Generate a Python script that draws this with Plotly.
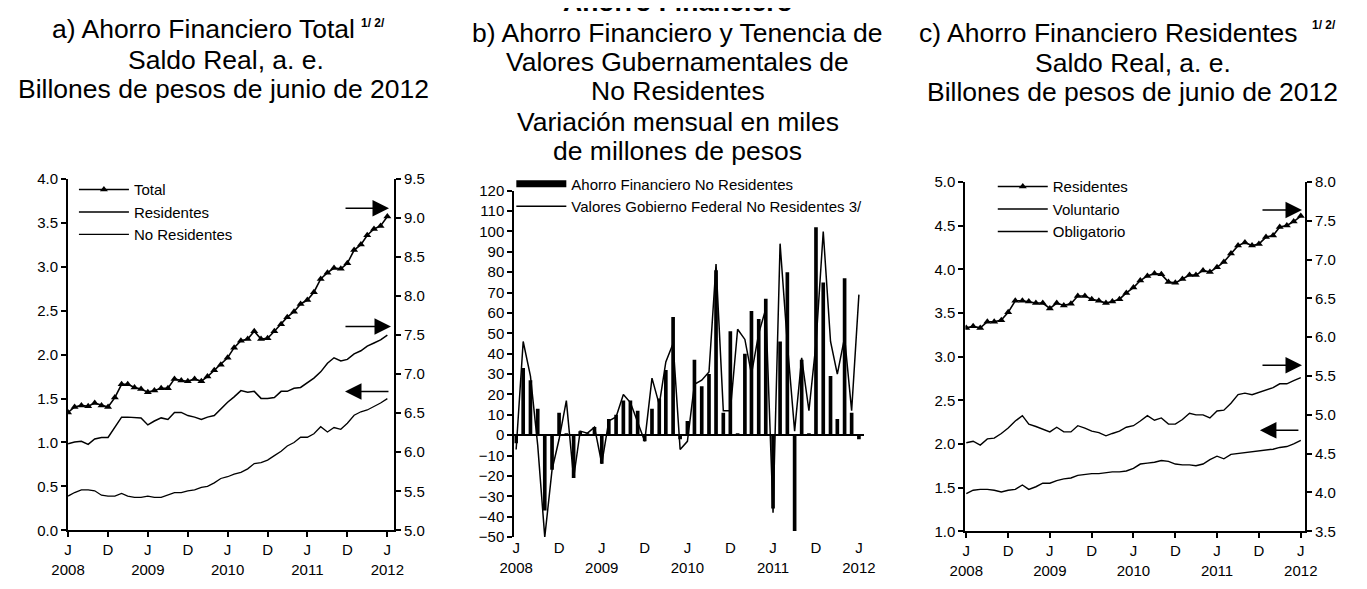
import pandas as pd
import plotly.graph_objects as go

# meses jun-2008 .. jun-2012
meses = pd.date_range("2008-06-01", periods=49, freq="MS")

tick_fechas = ["2008-06-01", "2008-12-01", "2009-06-01", "2009-12-01", "2010-06-01",
               "2010-12-01", "2011-06-01", "2011-12-01", "2012-06-01"]
tick_textos = ["J<br>2008", "D", "J<br>2009", "D", "J<br>2010", "D", "J<br>2011", "D", "J<br>2012"]

# a) Ahorro financiero total (billones de pesos)
total_a = [6.51, 6.58, 6.60, 6.59, 6.63, 6.60, 6.58, 6.70, 6.87, 6.87,
           6.83, 6.81, 6.77, 6.79, 6.82, 6.82, 6.94, 6.92, 6.91, 6.94,
           6.91, 6.97, 7.05, 7.12, 7.21, 7.34, 7.43, 7.45, 7.55, 7.45,
           7.46, 7.55, 7.64, 7.73, 7.80, 7.90, 7.95, 8.05, 8.22, 8.30,
           8.36, 8.35, 8.42, 8.59, 8.66, 8.78, 8.86, 8.90, 9.02]
residentes_a = [6.11, 6.13, 6.14, 6.10, 6.17, 6.19, 6.19, 6.32, 6.45, 6.45,
                6.44, 6.44, 6.35, 6.40, 6.44, 6.42, 6.51, 6.51, 6.47, 6.45,
                6.42, 6.45, 6.47, 6.56, 6.64, 6.71, 6.79, 6.77, 6.78, 6.69,
                6.69, 6.70, 6.78, 6.78, 6.82, 6.83, 6.89, 6.95, 7.03, 7.14,
                7.21, 7.17, 7.19, 7.26, 7.30, 7.36, 7.40, 7.44, 7.50]
no_residentes_a = [0.39, 0.43, 0.46, 0.46, 0.45, 0.40, 0.39, 0.39, 0.42, 0.39,
                   0.375, 0.375, 0.39, 0.375, 0.375, 0.40, 0.43, 0.43, 0.45, 0.46,
                   0.49, 0.50, 0.54, 0.59, 0.61, 0.64, 0.66, 0.70, 0.76, 0.77,
                   0.80, 0.85, 0.90, 0.96, 1.00, 1.06, 1.06, 1.10, 1.18, 1.12,
                   1.17, 1.15, 1.22, 1.31, 1.35, 1.37, 1.41, 1.45, 1.50]

# b) variacion mensual, miles de millones de pesos
ahorro_nr = [-4, 33, 27, 13, -37, -17, 11, 1, -21, 2,
             1, 4, -14, 8, 10, 17, 17, 12, -3, 13,
             18, 32, 58, -2, 7, 37, 24, 30, 81, 11,
             51, 1, 40, 61, 57, 67, -36, 46, 80, -47,
             37, 1, 102, 75, 29, 8, 77, 11, -2]
valores_gf = [-7, 46, 29, -5, -50, -17, -2, 17, -21, 2,
              1, 4, -14, 7, 9, 20, 16, 6, -3, 28,
              15, 36, 45, -7, -3, 25, 27, 31, 84, 12,
              12, 52, 47, 30, 50, 62, -38, 94, 45, 2,
              38, 12, 45, 100, 46, 30, 48, 12, 69]

# c) Ahorro financiero residentes
residentes_c = [6.12, 6.14, 6.12, 6.20, 6.20, 6.22, 6.32, 6.47, 6.47, 6.46,
                6.44, 6.44, 6.37, 6.44, 6.41, 6.43, 6.53, 6.53, 6.49, 6.47,
                6.44, 6.46, 6.49, 6.57, 6.64, 6.73, 6.79, 6.82, 6.81, 6.71,
                6.70, 6.75, 6.80, 6.80, 6.86, 6.84, 6.90, 6.97, 7.08, 7.18,
                7.22, 7.18, 7.20, 7.29, 7.31, 7.42, 7.44, 7.49, 7.56]
voluntario_c = [4.64, 4.66, 4.61, 4.69, 4.70, 4.76, 4.83, 4.92, 4.99, 4.88,
                4.85, 4.82, 4.78, 4.84, 4.78, 4.78, 4.86, 4.83, 4.79, 4.77,
                4.73, 4.76, 4.79, 4.84, 4.86, 4.92, 4.99, 4.93, 4.96, 4.88,
                4.88, 4.94, 5.02, 5.00, 5.00, 4.96, 5.05, 5.06, 5.15, 5.26,
                5.28, 5.26, 5.29, 5.32, 5.35, 5.40, 5.40, 5.44, 5.48]
obligatorio_c = [1.43, 1.47, 1.48, 1.48, 1.47, 1.45, 1.47, 1.48, 1.53, 1.48,
                 1.51, 1.55, 1.55, 1.58, 1.60, 1.61, 1.64, 1.65, 1.66, 1.66,
                 1.67, 1.68, 1.68, 1.69, 1.72, 1.77, 1.78, 1.79, 1.81, 1.80,
                 1.77, 1.76, 1.76, 1.75, 1.77, 1.82, 1.86, 1.83, 1.88, 1.89,
                 1.90, 1.91, 1.92, 1.93, 1.94, 1.96, 1.97, 2.00, 2.04]

# the page body keeps its default 8px margin, so the figure is 16px smaller than the window
PAD = 8
W, H = 1367 - 2 * PAD, 589 - 2 * PAD
FONT = "Liberation Sans, Arial, sans-serif"
NEGRO = "black"


def px_x(x):
    return (x - PAD) / W


def px_y(y):
    return 1 - (y - PAD) / H


fig = go.Figure()

# ---- panel a
fig.add_trace(go.Scatter(x=meses, y=total_a, name="Total", mode="lines+markers",
                         line=dict(color=NEGRO, width=1.6),
                         marker=dict(symbol="triangle-up", size=7, color=NEGRO),
                         xaxis="x", yaxis="y2", legend="legend"))
fig.add_trace(go.Scatter(x=meses, y=residentes_a, name="Residentes", mode="lines",
                         line=dict(color=NEGRO, width=1.5), xaxis="x", yaxis="y2", legend="legend"))
fig.add_trace(go.Scatter(x=meses, y=no_residentes_a, name="No Residentes", mode="lines",
                         line=dict(color=NEGRO, width=1.3), xaxis="x", yaxis="y", legend="legend"))

# ---- panel b
fig.add_trace(go.Bar(x=meses, y=ahorro_nr, name="Ahorro Financiero No Residentes",
                     marker=dict(color=NEGRO, line=dict(width=0)), width=1.35e9,
                     xaxis="x2", yaxis="y3", showlegend=False))
fig.add_trace(go.Scatter(x=[None], y=[None], name="Ahorro Financiero No Residentes", mode="lines",
                         line=dict(color=NEGRO, width=7), xaxis="x2", yaxis="y3", legend="legend2"))
fig.add_trace(go.Scatter(x=meses, y=valores_gf, name="Valores Gobierno Federal No Residentes 3/",
                         mode="lines", line=dict(color=NEGRO, width=1.5),
                         xaxis="x2", yaxis="y3", legend="legend2"))

# ---- panel c
fig.add_trace(go.Scatter(x=meses, y=residentes_c, name="Residentes", mode="lines+markers",
                         line=dict(color=NEGRO, width=1.6),
                         marker=dict(symbol="triangle-up", size=7, color=NEGRO),
                         xaxis="x3", yaxis="y5", legend="legend3"))
fig.add_trace(go.Scatter(x=meses, y=voluntario_c, name="Voluntario", mode="lines",
                         line=dict(color=NEGRO, width=1.4), xaxis="x3", yaxis="y5", legend="legend3"))
fig.add_trace(go.Scatter(x=meses, y=obligatorio_c, name="Obligatorio", mode="lines",
                         line=dict(color=NEGRO, width=1.4), xaxis="x3", yaxis="y4", legend="legend3"))

tickfont = dict(family=FONT, size=15, color=NEGRO)
eje = dict(showgrid=False, zeroline=False, showline=True, linecolor=NEGRO, linewidth=2,
           ticks="outside", ticklen=5, tickwidth=1.5, tickcolor=NEGRO, tickfont=tickfont)
ejex = dict(eje, type="date", tickvals=tick_fechas, ticktext=tick_textos, tickangle=0)
leyenda = dict(xanchor="left", yanchor="top", bgcolor="rgba(0,0,0,0)",
               font=dict(family=FONT, size=15, color=NEGRO), itemwidth=50, tracegroupgap=0)

fig.update_layout(
    xaxis=dict(ejex, domain=[px_x(52), px_x(385)], range=["2008-06-01", "2012-07-01"], anchor="y"),
    yaxis=dict(eje, domain=[px_y(537), px_y(175)], range=[0, 4], dtick=0.5, tickformat=".1f", anchor="x"),
    yaxis2=dict(eje, overlaying="y", side="right", range=[5, 9.5], dtick=0.5, tickformat=".1f", anchor="x"),
    xaxis2=dict(ejex, domain=[px_x(508), px_x(865)], range=["2008-05-24", "2012-06-21"],
                showline=False, ticks="", anchor="y3"),
    yaxis3=dict(eje, domain=[px_y(544), px_y(187)], range=[-50, 120], dtick=10, anchor="x2",
                zeroline=True, zerolinecolor=NEGRO, zerolinewidth=2),
    xaxis3=dict(ejex, domain=[px_x(969), px_x(1316)], range=["2008-05-28", "2012-06-19"], anchor="y4"),
    yaxis4=dict(eje, domain=[px_y(538), px_y(178)], range=[1, 5], dtick=0.5, tickformat=".1f", anchor="x3"),
    yaxis5=dict(eje, overlaying="y4", side="right", range=[3.5, 8.0], dtick=0.5, tickformat=".1f", anchor="x3"),
    width=W, height=H,
    margin=dict(l=0, r=0, t=0, b=0),
    paper_bgcolor="white", plot_bgcolor="white",
    font=dict(family=FONT, color=NEGRO),
    legend=dict(leyenda, x=px_x(58), y=px_y(169)),
    legend2=dict(leyenda, x=px_x(505), y=px_y(163)),
    legend3=dict(leyenda, x=px_x(997), y=px_y(166)),
)

# titulos
titulos = [
    ("a) Ahorro Financiero Total", 190, 20),
    ("Saldo Real, a. e.", 213, 52),
    ("Billones de pesos de junio de 2012", 211, 82),
    ("b) Ahorro Financiero y Tenencia de", 675, 24),
    ("Valores Gubernamentales de", 675, 54),
    ("No Residentes", 675, 84),
    ("Variación mensual en miles", 675, 116),
    ("de millones de pesos", 675, 146),
    ("c) Ahorro Financiero Residentes", 1115, 24),
    ("Saldo Real, a. e.", 1140, 55),
    ("Billones de pesos de junio de 2012", 1140, 85),
]
for txt, x, y in titulos:
    fig.add_annotation(text=txt, x=px_x(x), y=px_y(y), xref="paper", yref="paper",
                       xanchor="center", yanchor="middle", showarrow=False,
                       font=dict(family=FONT, size=26.5, color=NEGRO))
fig.add_annotation(text="<b>Ahorro Financiero</b>", x=px_x(675), y=px_y(-7), xref="paper", yref="paper",
                   xanchor="center", yanchor="middle", showarrow=False,
                   font=dict(family=FONT, size=26.5, color=NEGRO))
for x, y in [(364, 14), (1336, 16)]:
    fig.add_annotation(text="<b>1/ 2/</b>", x=px_x(x), y=px_y(y), xref="paper", yref="paper",
                       xanchor="center", yanchor="middle", showarrow=False,
                       font=dict(family=FONT, size=12, color=NEGRO))

# flechas (cabeza, cola, altura)
flechas = [(380, 335, 205), (382, 335, 327), (335, 380, 394),
           (1313, 1272, 207), (1313, 1272, 367), (1270, 1310, 434)]
for cabeza, cola, y in flechas:
    fig.add_annotation(text="", x=px_x(cabeza), y=px_y(y), xref="paper", yref="paper",
                       ax=cola - cabeza, ay=0, showarrow=True, arrowhead=2, arrowsize=2.2,
                       arrowwidth=1.5, arrowcolor=NEGRO, standoff=0)

fig.write_html("out.html", config={"displayModeBar": False})
